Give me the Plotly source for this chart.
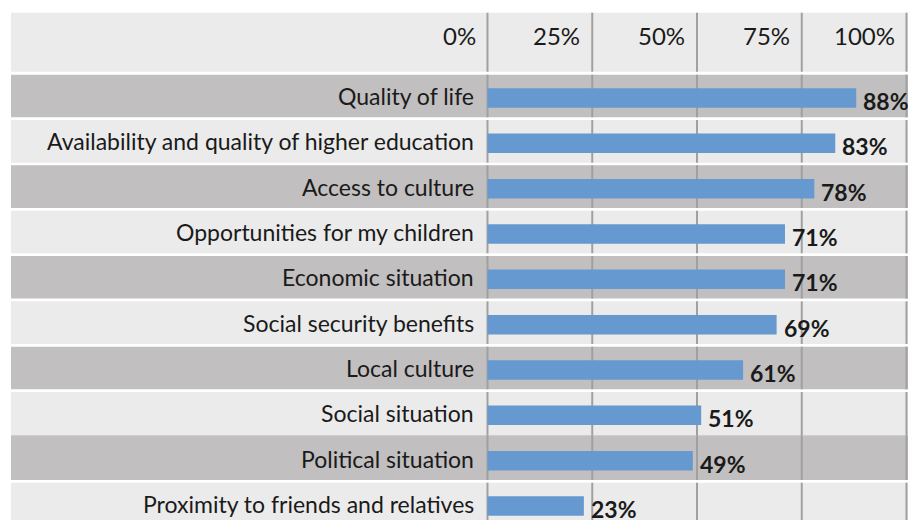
import plotly.graph_objects as go

categories = [
    "Quality of life",
    "Availability and quality of higher education",
    "Access to culture",
    "Opportunities for my children",
    "Economic situation",
    "Social security benefits",
    "Local culture",
    "Social situation",
    "Political situation",
    "Proximity to friends and relatives",
]
values = [88, 83, 78, 71, 71, 69, 61, 51, 49, 23]
tick_values = [0, 25, 50, 75, 100]
tick_labels = ["0%", "25%", "50%", "75%", "100%"]

BAR = "#6699cf"
DARK = "#c1bfbf"
LIGHT = "#ebebeb"
GRID = "#a0a0a0"
TEXT = "#1a1a1a"
FONT = "Lato"

W, H = 908, 520
# linear scales: pixels per percentage point, pixels per category row
x0_px, x_scale = 487.5, 4.19
y0_px, y_pitch = 98, 45.33


def ypx(p):
    return (p - y0_px) / y_pitch


def xpx(p):
    return (p - x0_px) / x_scale


x_range = [xpx(0), xpx(W)]
y_range = [ypx(H), ypx(0)]

left = xpx(11)
right = x_range[1] + 5

# bands: header row then one band per category
bands = [[ypx(12.7), ypx(71.7), LIGHT]]
top_off, bot_off = ypx(74.7), ypx(117.3)
for i in range(len(categories)):
    color = DARK if i % 2 == 0 else LIGHT
    bands.append([i + top_off, i + bot_off, color])
# the "Social situation" and "Political situation" bands touch
bands[8][1] = 7 + top_off + 43.3 / y_pitch
bands[9][0] = bands[8][1]

shapes = []
for top, bot, color in bands:
    shapes.append(dict(type="rect", xref="x", yref="y", x0=left, x1=right,
                       y0=top, y1=bot, fillcolor=color, line_width=0,
                       layer="below"))
for top, bot, color in bands:
    for t in tick_values:
        shapes.append(dict(type="line", xref="x", yref="y", x0=t, x1=t,
                           y0=top, y1=bot, line=dict(color=GRID, width=2),
                           layer="below"))

fig = go.Figure()
fig.add_trace(go.Bar(
    x=values,
    y=list(range(len(categories))),
    orientation="h",
    width=0.43,
    marker=dict(color=BAR, line_width=0),
    hoverinfo="skip",
))

annotations = []
for i, (c, v) in enumerate(zip(categories, values)):
    annotations.append(dict(x=0, y=i, xref="x", yref="y", text=c,
                            xanchor="right", yanchor="middle", xshift=-12,
                            yshift=2, showarrow=False,
                            font=dict(family=FONT, size=23, color=TEXT)))
    annotations.append(dict(x=v, y=i, xref="x", yref="y", text=f"<b>{v}%</b>",
                            xanchor="left", yanchor="middle", xshift=5,
                            yshift=-3, showarrow=False,
                            font=dict(family=FONT, size=23, color=TEXT)))
for t, lab in zip(tick_values, tick_labels):
    annotations.append(dict(x=t, y=ypx(35.5), xref="x", yref="y", text=lab,
                            xanchor="right", yanchor="middle", xshift=-10,
                            showarrow=False,
                            font=dict(family=FONT, size=24, color=TEXT)))

fig.update_layout(
    width=W, height=H,
    margin=dict(l=0, r=0, t=0, b=0),
    paper_bgcolor="white",
    plot_bgcolor="white",
    showlegend=False,
    shapes=shapes,
    annotations=annotations,
    xaxis=dict(range=x_range, visible=False, fixedrange=True),
    yaxis=dict(range=y_range, visible=False, fixedrange=True),
)

fig.write_html("out.html")
